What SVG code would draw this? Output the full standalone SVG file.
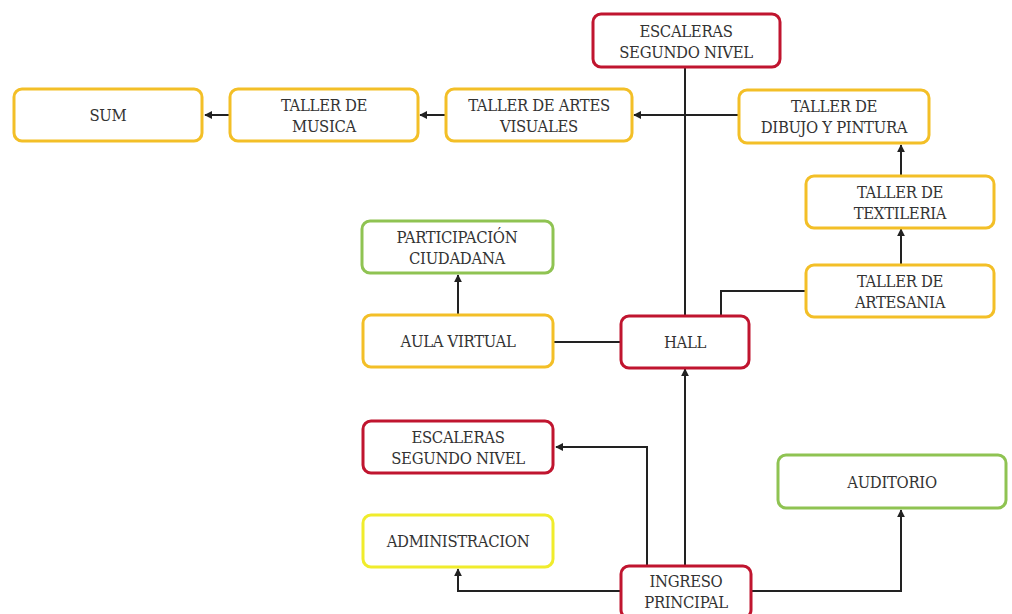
<svg xmlns="http://www.w3.org/2000/svg" width="1012" height="614" viewBox="0 0 1012 614">
<defs>
<style>
.n rect{fill:#fff;stroke-width:3}
.red rect{stroke:#c0152f}
.org rect{stroke:#f3bf27}
.grn rect{stroke:#8fc352}
.yel rect{stroke:#f0ec2c}
text{font-family:'DejaVu Serif Condensed','DejaVu Serif',serif;font-size:16.5px;fill:#333;text-anchor:middle;letter-spacing:-0.3px}
.c path{fill:none;stroke:#222;stroke-width:2}
</style>
<marker id="a" viewBox="0 0 10 10" refX="9" refY="5" markerWidth="4" markerHeight="4" orient="auto-start-reverse" markerUnits="strokeWidth">
<path d="M0,0 L10,5 L0,10 z" fill="#222"/>
</marker>
</defs>
<rect width="1012" height="614" fill="#fff"/>
<g class="c">
<path d="M685,67 V315"/>
<path d="M738,115 H634" marker-end="url(#a)"/>
<path d="M445,115 H420" marker-end="url(#a)"/>
<path d="M230,115 H205" marker-end="url(#a)"/>
<path d="M901,175 V145" marker-end="url(#a)"/>
<path d="M901,264 V229" marker-end="url(#a)"/>
<path d="M721,316 V291 H806"/>
<path d="M554,342 H621"/>
<path d="M458,314 V275" marker-end="url(#a)"/>
<path d="M685,565 V369" marker-end="url(#a)"/>
<path d="M647,565 V447 H556" marker-end="url(#a)"/>
<path d="M621,591 H458 V569" marker-end="url(#a)"/>
<path d="M751,591 H901 V510" marker-end="url(#a)"/>
</g>
<g id="escaleras-top" class="n red"><rect x="593" y="14" width="187" height="53" rx="8"/><text x="686" y="37">ESCALERAS</text><text x="686" y="58">SEGUNDO NIVEL</text></g>
<g id="sum" class="n org"><rect x="14" y="89" width="188" height="52" rx="8"/><text x="108" y="121">SUM</text></g>
<g id="musica" class="n org"><rect x="230" y="89" width="188" height="52" rx="8"/><text x="324" y="111">TALLER DE</text><text x="324" y="132">MUSICA</text></g>
<g id="artes" class="n org"><rect x="446" y="89" width="186" height="52" rx="8"/><text x="539" y="111">TALLER DE ARTES</text><text x="539" y="132">VISUALES</text></g>
<g id="dibujo" class="n org"><rect x="739" y="90" width="190" height="53" rx="8"/><text x="834" y="112">TALLER DE</text><text x="834" y="133">DIBUJO Y PINTURA</text></g>
<g id="textileria" class="n org"><rect x="806" y="176" width="188" height="52" rx="8"/><text x="900" y="198">TALLER DE</text><text x="900" y="219">TEXTILERIA</text></g>
<g id="participacion" class="n grn"><rect x="362" y="221" width="191" height="52" rx="8"/><text x="457" y="243">PARTICIPACIÓN</text><text x="457" y="264">CIUDADANA</text></g>
<g id="artesania" class="n org"><rect x="806" y="265" width="188" height="52" rx="8"/><text x="900" y="287">TALLER DE</text><text x="900" y="308">ARTESANIA</text></g>
<g id="aula" class="n org"><rect x="363" y="315" width="190" height="52" rx="8"/><text x="458" y="347">AULA VIRTUAL</text></g>
<g id="hall" class="n red"><rect x="621" y="316" width="128" height="52" rx="8"/><text x="685" y="348">HALL</text></g>
<g id="escaleras-bottom" class="n red"><rect x="363" y="421" width="190" height="52" rx="8"/><text x="458" y="443">ESCALERAS</text><text x="458" y="464">SEGUNDO NIVEL</text></g>
<g id="auditorio" class="n grn"><rect x="778" y="455" width="228" height="53" rx="8"/><text x="892" y="488">AUDITORIO</text></g>
<g id="administracion" class="n yel"><rect x="363" y="515" width="190" height="52" rx="8"/><text x="458" y="547">ADMINISTRACION</text></g>
<g id="ingreso" class="n red"><rect x="621" y="566" width="130" height="52" rx="8"/><text x="686" y="587">INGRESO</text><text x="686" y="608">PRINCIPAL</text></g>
</svg>
